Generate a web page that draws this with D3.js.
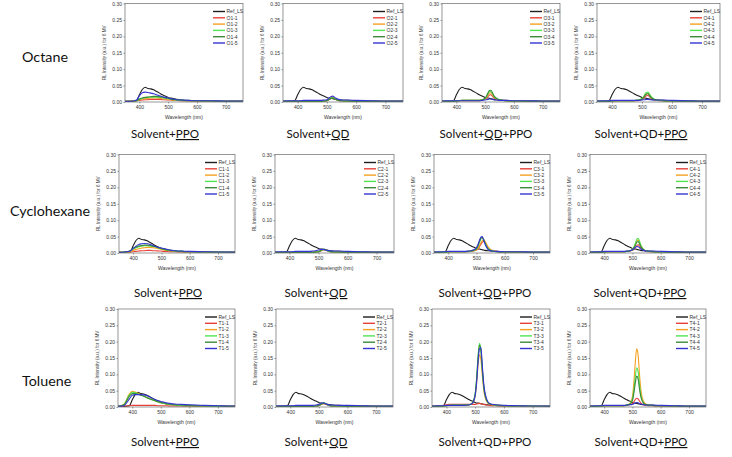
<!DOCTYPE html>
<html><head><meta charset="utf-8">
<script src="https://cdn.jsdelivr.net/npm/d3@7"></script>
<style>body{margin:0;background:#fff}svg{display:block}</style>
</head><body>
<script>
// ---------- DATA ----------
const wavelengths = [350,370,390,400,410,420,430,440,450,460,470,480,490,500,505,510,515,520,525,530,540,550,570,600,650,700,750,760];
const refLS = [0.002,0.002,0.004,0.022,0.038,0.045,0.041,0.040,0.037,0.032,0.027,0.022,0.018,0.014,0.012,0.012,0.011,0.010,0.009,0.008,0.007,0.006,0.005,0.004,0.003,0.002,0.002,0.002];

const octanePPO = [
 [0.002,0.003,0.004,0.005,0.006,0.007,0.007,0.008,0.008,0.008,0.008,0.007,0.007,0.006,0.006,0.006,0.005,0.005,0.005,0.005,0.004,0.004,0.004,0.003,0.003,0.002,0.002,0.002],
 [0.002,0.002,0.004,0.007,0.009,0.010,0.011,0.012,0.012,0.012,0.011,0.010,0.009,0.008,0.007,0.007,0.006,0.006,0.006,0.005,0.005,0.004,0.004,0.003,0.003,0.002,0.002,0.002],
 [0.002,0.002,0.004,0.008,0.011,0.013,0.014,0.015,0.015,0.015,0.014,0.013,0.011,0.010,0.009,0.008,0.007,0.007,0.006,0.006,0.005,0.005,0.004,0.004,0.003,0.002,0.002,0.002],
 [0.002,0.002,0.004,0.009,0.012,0.014,0.015,0.016,0.017,0.017,0.016,0.015,0.013,0.012,0.010,0.009,0.008,0.008,0.007,0.006,0.006,0.005,0.004,0.004,0.003,0.002,0.002,0.002],
 [0.002,0.002,0.006,0.019,0.028,0.030,0.029,0.027,0.025,0.022,0.019,0.016,0.014,0.012,0.011,0.010,0.009,0.009,0.008,0.007,0.006,0.006,0.005,0.004,0.004,0.003,0.003,0.003]
];
const octaneQD = [
 [0.002,0.002,0.002,0.002,0.002,0.002,0.002,0.002,0.002,0.002,0.002,0.002,0.003,0.004,0.006,0.009,0.011,0.012,0.010,0.008,0.005,0.004,0.003,0.002,0.002,0.002,0.002,0.002],
 [0.002,0.002,0.002,0.002,0.002,0.002,0.002,0.002,0.002,0.002,0.002,0.002,0.003,0.005,0.008,0.011,0.013,0.014,0.012,0.009,0.005,0.004,0.003,0.002,0.002,0.002,0.002,0.002],
 [0.002,0.002,0.002,0.002,0.002,0.002,0.002,0.002,0.002,0.002,0.002,0.002,0.003,0.005,0.007,0.010,0.012,0.013,0.011,0.008,0.005,0.004,0.003,0.002,0.002,0.002,0.002,0.002],
 [0.002,0.002,0.002,0.002,0.002,0.002,0.002,0.002,0.002,0.002,0.002,0.002,0.003,0.004,0.006,0.009,0.011,0.012,0.010,0.008,0.005,0.004,0.003,0.002,0.002,0.002,0.002,0.002],
 [0.003,0.004,0.004,0.004,0.004,0.005,0.005,0.005,0.005,0.005,0.005,0.005,0.006,0.007,0.010,0.014,0.017,0.018,0.015,0.012,0.008,0.006,0.006,0.005,0.004,0.003,0.003,0.003]
];
const octaneQDPPO = [
 [0.002,0.002,0.002,0.003,0.004,0.004,0.004,0.004,0.004,0.004,0.004,0.004,0.006,0.009,0.012,0.017,0.021,0.022,0.018,0.013,0.008,0.006,0.004,0.003,0.002,0.002,0.002,0.002],
 [0.002,0.002,0.002,0.003,0.004,0.005,0.005,0.005,0.005,0.005,0.005,0.005,0.007,0.010,0.015,0.022,0.027,0.028,0.023,0.016,0.009,0.006,0.004,0.003,0.002,0.002,0.002,0.002],
 [0.002,0.002,0.002,0.003,0.004,0.005,0.005,0.005,0.005,0.005,0.005,0.005,0.007,0.011,0.017,0.025,0.031,0.032,0.026,0.018,0.010,0.007,0.004,0.003,0.002,0.002,0.002,0.002],
 [0.002,0.002,0.002,0.003,0.004,0.005,0.005,0.005,0.005,0.005,0.005,0.005,0.007,0.012,0.019,0.028,0.035,0.036,0.029,0.020,0.011,0.007,0.004,0.003,0.002,0.002,0.002,0.002],
 [0.003,0.004,0.004,0.004,0.004,0.004,0.004,0.004,0.004,0.004,0.004,0.004,0.005,0.006,0.007,0.008,0.009,0.009,0.008,0.007,0.006,0.005,0.005,0.004,0.004,0.003,0.003,0.003]
];
const octaneQDPPO2 = [
 [0.002,0.002,0.002,0.003,0.003,0.004,0.004,0.004,0.004,0.004,0.004,0.004,0.005,0.008,0.011,0.016,0.019,0.020,0.016,0.012,0.007,0.005,0.004,0.003,0.002,0.002,0.002,0.002],
 [0.002,0.002,0.002,0.003,0.004,0.004,0.004,0.004,0.004,0.004,0.004,0.005,0.006,0.009,0.014,0.020,0.025,0.026,0.021,0.015,0.008,0.006,0.004,0.003,0.002,0.002,0.002,0.002],
 [0.002,0.002,0.002,0.003,0.004,0.004,0.004,0.004,0.004,0.004,0.004,0.005,0.007,0.011,0.016,0.024,0.029,0.030,0.024,0.017,0.009,0.006,0.004,0.003,0.002,0.002,0.002,0.002],
 [0.002,0.002,0.002,0.003,0.004,0.004,0.004,0.004,0.004,0.004,0.004,0.005,0.006,0.009,0.014,0.020,0.024,0.025,0.020,0.014,0.008,0.006,0.004,0.003,0.002,0.002,0.002,0.002],
 [0.003,0.004,0.004,0.005,0.005,0.005,0.005,0.005,0.005,0.005,0.005,0.005,0.005,0.006,0.007,0.007,0.008,0.008,0.007,0.007,0.006,0.006,0.006,0.005,0.004,0.003,0.003,0.003]
];
const cyclohexanePPO = [
 [0.002,0.002,0.003,0.004,0.005,0.006,0.007,0.007,0.008,0.008,0.007,0.007,0.006,0.006,0.005,0.005,0.005,0.005,0.004,0.004,0.004,0.004,0.003,0.003,0.003,0.002,0.002,0.002],
 [0.002,0.002,0.004,0.008,0.011,0.013,0.015,0.016,0.017,0.017,0.016,0.015,0.013,0.011,0.010,0.009,0.008,0.008,0.007,0.007,0.006,0.005,0.004,0.004,0.003,0.002,0.002,0.002],
 [0.002,0.003,0.006,0.012,0.016,0.019,0.021,0.022,0.022,0.021,0.020,0.018,0.015,0.013,0.012,0.011,0.010,0.009,0.008,0.008,0.007,0.006,0.005,0.004,0.003,0.003,0.002,0.002],
 [0.002,0.003,0.007,0.014,0.018,0.021,0.023,0.024,0.024,0.023,0.021,0.019,0.016,0.014,0.012,0.011,0.010,0.009,0.009,0.008,0.007,0.006,0.005,0.004,0.003,0.003,0.002,0.002],
 [0.002,0.003,0.006,0.014,0.021,0.026,0.028,0.029,0.028,0.026,0.023,0.020,0.017,0.015,0.014,0.013,0.012,0.011,0.010,0.009,0.008,0.007,0.006,0.005,0.004,0.003,0.003,0.003]
];
const cyclohexaneQD = [
 [0.002,0.002,0.002,0.002,0.002,0.002,0.002,0.002,0.002,0.002,0.002,0.002,0.003,0.004,0.005,0.007,0.009,0.010,0.009,0.007,0.004,0.003,0.003,0.002,0.002,0.002,0.002,0.002],
 [0.002,0.002,0.002,0.002,0.002,0.002,0.002,0.002,0.002,0.002,0.002,0.002,0.003,0.004,0.006,0.008,0.010,0.011,0.010,0.008,0.005,0.004,0.003,0.002,0.002,0.002,0.002,0.002],
 [0.002,0.002,0.002,0.002,0.002,0.002,0.002,0.002,0.002,0.002,0.002,0.002,0.003,0.004,0.006,0.008,0.010,0.011,0.009,0.007,0.004,0.003,0.003,0.002,0.002,0.002,0.002,0.002],
 [0.002,0.002,0.002,0.002,0.002,0.002,0.002,0.002,0.002,0.002,0.002,0.002,0.003,0.004,0.006,0.009,0.011,0.012,0.010,0.008,0.005,0.004,0.003,0.002,0.002,0.002,0.002,0.002],
 [0.003,0.004,0.004,0.004,0.004,0.005,0.005,0.005,0.005,0.005,0.005,0.006,0.007,0.009,0.010,0.011,0.011,0.010,0.009,0.008,0.007,0.006,0.006,0.005,0.004,0.003,0.003,0.003]
];
const cyclohexaneQDPPO = [
 [0.002,0.002,0.002,0.003,0.004,0.004,0.004,0.004,0.004,0.004,0.004,0.005,0.006,0.009,0.012,0.018,0.025,0.032,0.035,0.032,0.019,0.010,0.005,0.003,0.003,0.002,0.002,0.002],
 [0.002,0.002,0.002,0.003,0.004,0.004,0.004,0.004,0.004,0.004,0.005,0.005,0.007,0.010,0.014,0.021,0.030,0.037,0.040,0.036,0.020,0.010,0.005,0.004,0.003,0.002,0.002,0.002],
 [0.002,0.002,0.002,0.003,0.004,0.004,0.004,0.004,0.004,0.004,0.005,0.006,0.008,0.012,0.019,0.030,0.041,0.046,0.042,0.032,0.015,0.008,0.004,0.003,0.003,0.002,0.002,0.002],
 [0.002,0.002,0.003,0.004,0.004,0.004,0.004,0.004,0.004,0.004,0.005,0.006,0.008,0.013,0.021,0.033,0.044,0.048,0.042,0.030,0.013,0.007,0.004,0.003,0.003,0.002,0.002,0.002],
 [0.003,0.004,0.004,0.005,0.005,0.005,0.005,0.005,0.005,0.005,0.006,0.007,0.010,0.016,0.025,0.037,0.047,0.050,0.041,0.028,0.012,0.007,0.005,0.004,0.004,0.003,0.003,0.003]
];
const cyclohexaneQDPPO2 = [
 [0.002,0.002,0.002,0.003,0.003,0.004,0.004,0.004,0.004,0.004,0.004,0.005,0.006,0.008,0.011,0.016,0.022,0.025,0.021,0.015,0.008,0.005,0.004,0.003,0.002,0.002,0.002,0.002],
 [0.002,0.002,0.002,0.003,0.004,0.004,0.004,0.004,0.004,0.004,0.004,0.005,0.006,0.010,0.016,0.026,0.036,0.040,0.032,0.021,0.010,0.006,0.004,0.003,0.002,0.002,0.002,0.002],
 [0.002,0.002,0.002,0.003,0.004,0.004,0.004,0.004,0.004,0.004,0.004,0.005,0.007,0.011,0.018,0.029,0.041,0.045,0.036,0.023,0.011,0.006,0.004,0.003,0.002,0.002,0.002,0.002],
 [0.002,0.002,0.002,0.003,0.004,0.004,0.004,0.004,0.004,0.004,0.004,0.005,0.006,0.009,0.015,0.023,0.032,0.035,0.028,0.019,0.009,0.006,0.004,0.003,0.002,0.002,0.002,0.002],
 [0.003,0.004,0.004,0.005,0.005,0.005,0.005,0.005,0.005,0.005,0.005,0.006,0.007,0.010,0.013,0.017,0.020,0.019,0.016,0.012,0.008,0.006,0.006,0.005,0.004,0.003,0.003,0.003]
];
const toluenePPO = [
 [0.002,0.003,0.004,0.005,0.005,0.005,0.005,0.005,0.005,0.005,0.005,0.005,0.004,0.004,0.004,0.004,0.004,0.004,0.004,0.003,0.003,0.003,0.003,0.003,0.002,0.002,0.002,0.002],
 [0.002,0.008,0.040,0.048,0.046,0.042,0.038,0.034,0.030,0.026,0.022,0.019,0.016,0.013,0.012,0.011,0.010,0.009,0.009,0.008,0.007,0.006,0.005,0.004,0.003,0.002,0.002,0.002],
 [0.002,0.007,0.037,0.045,0.044,0.040,0.037,0.033,0.029,0.025,0.022,0.019,0.016,0.013,0.012,0.011,0.010,0.009,0.009,0.008,0.007,0.006,0.005,0.004,0.003,0.002,0.002,0.002],
 [0.002,0.006,0.033,0.041,0.041,0.039,0.036,0.033,0.029,0.025,0.022,0.019,0.016,0.014,0.013,0.012,0.011,0.010,0.009,0.009,0.008,0.007,0.006,0.005,0.004,0.003,0.002,0.002],
 [0.002,0.004,0.025,0.036,0.038,0.038,0.038,0.037,0.035,0.031,0.027,0.023,0.020,0.017,0.016,0.015,0.014,0.013,0.012,0.011,0.010,0.009,0.008,0.007,0.005,0.004,0.003,0.003]
];
const tolueneQD = [
 [0.002,0.002,0.002,0.002,0.002,0.002,0.002,0.002,0.002,0.002,0.002,0.002,0.003,0.004,0.006,0.008,0.010,0.010,0.008,0.006,0.004,0.003,0.003,0.002,0.002,0.002,0.002,0.002],
 [0.002,0.002,0.002,0.002,0.002,0.002,0.002,0.002,0.002,0.002,0.002,0.002,0.003,0.005,0.007,0.009,0.011,0.011,0.009,0.007,0.004,0.003,0.003,0.002,0.002,0.002,0.002,0.002],
 [0.002,0.002,0.002,0.002,0.002,0.002,0.002,0.002,0.002,0.002,0.002,0.002,0.003,0.005,0.007,0.010,0.012,0.012,0.010,0.007,0.004,0.003,0.003,0.002,0.002,0.002,0.002,0.002],
 [0.002,0.002,0.002,0.002,0.002,0.002,0.002,0.002,0.002,0.002,0.002,0.002,0.003,0.005,0.007,0.009,0.011,0.011,0.009,0.007,0.004,0.003,0.003,0.002,0.002,0.002,0.002,0.002],
 [0.003,0.004,0.004,0.004,0.004,0.005,0.005,0.005,0.005,0.005,0.005,0.005,0.006,0.008,0.010,0.012,0.013,0.012,0.010,0.008,0.006,0.006,0.005,0.005,0.004,0.003,0.003,0.003]
];
const tolueneQDPPO = [
 [0.002,0.003,0.005,0.007,0.008,0.008,0.008,0.008,0.008,0.008,0.008,0.008,0.008,0.008,0.009,0.010,0.011,0.010,0.009,0.008,0.006,0.005,0.004,0.003,0.003,0.002,0.002,0.002],
 [0.002,0.002,0.003,0.004,0.005,0.005,0.005,0.005,0.005,0.005,0.005,0.007,0.011,0.033,0.072,0.128,0.160,0.145,0.094,0.051,0.017,0.009,0.005,0.004,0.003,0.002,0.002,0.002],
 [0.002,0.002,0.003,0.004,0.005,0.006,0.006,0.006,0.006,0.006,0.006,0.007,0.012,0.041,0.088,0.155,0.195,0.175,0.113,0.062,0.021,0.010,0.006,0.004,0.003,0.003,0.002,0.002],
 [0.002,0.002,0.003,0.004,0.005,0.006,0.006,0.006,0.006,0.006,0.006,0.007,0.012,0.040,0.085,0.150,0.190,0.172,0.111,0.060,0.020,0.010,0.006,0.004,0.003,0.003,0.002,0.002],
 [0.003,0.004,0.004,0.005,0.005,0.005,0.005,0.005,0.005,0.005,0.006,0.007,0.011,0.035,0.075,0.138,0.178,0.182,0.125,0.070,0.024,0.011,0.007,0.005,0.004,0.003,0.003,0.003]
];
const tolueneQDPPO2 = [
 [0.002,0.002,0.003,0.004,0.004,0.004,0.004,0.004,0.004,0.004,0.004,0.005,0.007,0.011,0.016,0.023,0.027,0.025,0.018,0.012,0.007,0.005,0.004,0.003,0.002,0.002,0.002,0.002],
 [0.002,0.002,0.003,0.004,0.004,0.004,0.004,0.004,0.004,0.004,0.004,0.006,0.010,0.032,0.075,0.135,0.178,0.160,0.100,0.052,0.016,0.008,0.005,0.004,0.003,0.002,0.002,0.002],
 [0.002,0.002,0.003,0.004,0.004,0.004,0.004,0.004,0.004,0.004,0.004,0.006,0.009,0.024,0.052,0.092,0.120,0.108,0.068,0.036,0.012,0.007,0.005,0.004,0.003,0.002,0.002,0.002],
 [0.002,0.002,0.003,0.004,0.004,0.004,0.004,0.004,0.004,0.004,0.004,0.006,0.008,0.020,0.042,0.073,0.095,0.086,0.055,0.030,0.011,0.006,0.005,0.004,0.003,0.002,0.002,0.002],
 [0.003,0.004,0.004,0.005,0.005,0.005,0.005,0.005,0.005,0.005,0.005,0.006,0.007,0.008,0.010,0.012,0.014,0.013,0.011,0.009,0.007,0.006,0.006,0.005,0.004,0.003,0.003,0.003]
];

const panelData = [
  [octanePPO, octaneQD, octaneQDPPO, octaneQDPPO2],
  [cyclohexanePPO, cyclohexaneQD, cyclohexaneQDPPO, cyclohexaneQDPPO2],
  [toluenePPO, tolueneQD, tolueneQDPPO, tolueneQDPPO2]
];
const rowNames = ["Octane", "Cyclohexane", "Toluene"];
const seriesPrefix = ["O", "C", "T"];
const refName = "Ref_LS";
// caption pieces: [text, underlined]
const captions = [
  [[["Solvent+",0],["PPO",1]], [["Solvent+",0],["QD",1]], [["Solvent+",0],["QD",1],["+PPO",0]], [["Solvent+QD+",0],["PPO",1]]],
  [[["Solvent+",0],["PPO",1]], [["Solvent+",0],["QD",1]], [["Solvent+",0],["QD",1],["+PPO",0]], [["Solvent+QD+",0],["PPO",1]]],
  [[["Solvent+",0],["PPO",1]], [["Solvent+",0],["QD",1]], [["Solvent+QD+PPO",0]], [["Solvent+QD+",0],["PPO",1]]]
];
const yTicks = [0, 0.05, 0.10, 0.15, 0.20, 0.25, 0.30];
const xTicks = [400, 500, 600, 700];
const seriesColors = ["#1e1e1e", "#e8413a", "#f5a020", "#52e452", "#3a8a3a", "#3434d2"];

// ---------- LAYOUT ----------
const W = 732, H = 457;
const rowY = [[3.5, 102], [154.5, 253], [309, 407]];
const colX = [
  [[125, 243], [283, 403], [442, 560], [597, 720]],
  [[119, 235], [275, 394], [434, 550], [590, 706]],
  [[118, 235], [276, 393], [432, 550], [590, 706]]
];
const captionX = [[165, 318, 486, 641], [168, 316, 485, 640], [165, 316, 485, 641]];
const captionY = [138, 297, 446];
const rowLabelPos = [[22, 62], [10, 216], [22, 386]];

const svg = d3.select("body").append("svg").attr("width", W).attr("height", H);

rowNames.forEach((name, r) => {
  svg.append("text").attr("x", rowLabelPos[r][0]).attr("y", rowLabelPos[r][1])
    .attr("font-family", "Lato, 'Liberation Sans', sans-serif")
    .attr("font-size", 14.3).attr("fill", "#111").text(name);
});

const fontAx = "'Liberation Sans', Arial, sans-serif";

panelData.forEach((row, r) => {
  row.forEach((series, c) => {
    const [x0, x1] = colX[r][c];
    const [y0, y1] = rowY[r];
    const x = d3.scaleLinear().domain([350, 760]).range([x0, x1]);
    const y = d3.scaleLinear().domain([0, 0.30]).range([y1, y0]);
    const g = svg.append("g");

    const ya = g.append("g").attr("transform", `translate(${x0},0)`)
      .call(d3.axisLeft(y).tickValues(yTicks).tickFormat(d3.format(".2f")).tickSize(1.5).tickPadding(1.5));
    const xa = g.append("g").attr("transform", `translate(0,${y1})`)
      .call(d3.axisBottom(x).tickValues(xTicks).tickFormat(d3.format("d")).tickSize(1.5).tickPadding(1.5));
    [ya, xa].forEach(a => {
      a.select(".domain").remove();
      a.selectAll("line").attr("stroke", "#555").attr("stroke-width", 0.6);
      a.selectAll("text").attr("font-family", fontAx).attr("font-size", 5).attr("fill", "#333");
    });

    const line = d3.line().x((d, i) => x(wavelengths[i])).y(d => y(d)).curve(d3.curveMonotoneX);
    const all = [refLS, ...series];
    all.forEach((vals, k) => {
      g.append("path").datum(vals).attr("d", line).attr("fill", "none")
        .attr("stroke", seriesColors[k]).attr("stroke-width", 1.1).attr("stroke-linejoin", "round");
    });

    g.append("rect").attr("x", x0).attr("y", y0).attr("width", x1 - x0).attr("height", y1 - y0)
      .attr("fill", "none").attr("stroke", "#6a6a6a").attr("stroke-width", 0.7);

    g.append("text").attr("x", (x0 + x1) / 2).attr("y", y1 + 17).attr("text-anchor", "middle")
      .attr("font-family", fontAx).attr("font-size", 5).attr("fill", "#333").text("Wavelength (nm)");
    g.append("text").attr("transform", `translate(${x0 - 19},${(y0 + y1) / 2}) rotate(-90)`)
      .attr("text-anchor", "middle").attr("font-family", fontAx).attr("font-size", 4.6).attr("fill", "#444")
      .text("RL Intensity (a.u.) for 6 MV");

    const names = [refName, ...series.map((s, k) => `${seriesPrefix[r]}${c + 1}-${k + 1}`)];
    names.forEach((nm, k) => {
      const ly = y0 + 8 + k * 6.3;
      g.append("line").attr("x1", x1 - 30).attr("x2", x1 - 18).attr("y1", ly).attr("y2", ly)
        .attr("stroke", seriesColors[k]).attr("stroke-width", 1.4);
      g.append("text").attr("x", x1 - 16.5).attr("y", ly + 1.8).attr("font-family", fontAx)
        .attr("font-size", 5).attr("fill", "#333").text(nm);
    });

    const t = svg.append("text").attr("x", captionX[r][c]).attr("y", captionY[r]).attr("text-anchor", "middle")
      .attr("font-family", "Lato, 'Liberation Sans', sans-serif").attr("font-size", 11.6).attr("fill", "#111");
    captions[r][c].forEach(([txt, u]) => {
      t.append("tspan").attr("text-decoration", u ? "underline" : null).text(txt);
    });
  });
});
</script>
</body></html>
